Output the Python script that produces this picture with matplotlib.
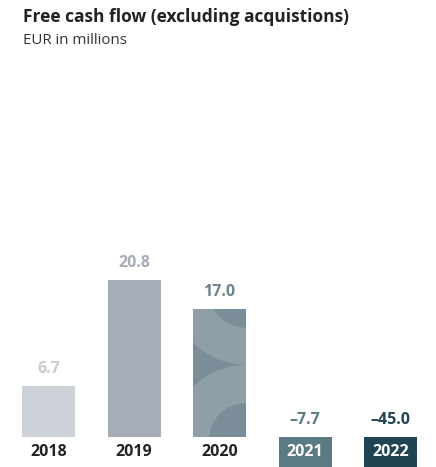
import matplotlib.pyplot as plt
from matplotlib.patches import Rectangle, Ellipse

years = ['2018', '2019', '2020', '2021', '2022']
fcf = [6.7, 20.8, 17.0, -7.7, -45.0]
bar_colors = ['#cdd2d9', '#a5adb6', '#8e9fa8', '#5a7a84', '#1f4452']
value_colors = ['#c6ccd3', '#a5adb6', '#6f838e', '#5a7a84', '#1f4452']

W, H = 436, 467
ppu = 7.55          # pixels per EUR million
base_px = 30        # height of the year-label strip
step_px = 85.5      # distance between bar centres
x0_px = 48.5        # centre of the first bar
bar_px = 53

fig = plt.figure(figsize=(W / 100, H / 100), dpi=100)
ax = fig.add_axes([0, 0, 1, 1])
ax.set_xlim(-x0_px / step_px, (W - x0_px) / step_px)
ax.set_ylim(-base_px / ppu, (H - base_px) / ppu)
ax.axis('off')

font = ['Open Sans', 'DejaVu Sans']
bw = bar_px / step_px
heights = [max(v, 0) for v in fcf]
bars = ax.bar(range(len(years)), heights, width=bw, color=bar_colors, zorder=2)

# 2020 bar gets the arc decoration, clipped to the bar itself
b = bars[2]
cx = b.get_x() + b.get_width()
top = b.get_height()
dark = '#7b8d98'
rx = 1 / step_px
ry = 1 / ppu
layers = [
    (top + 19 * ry, 75, '#8e9fa8'),
    (top + 19 * ry, 38, dark),
    (-3 * ry, 75, '#8e9fa8'),
    (-3 * ry, 37, dark),
]
b.set_facecolor(dark)
for cy, r, c in layers:
    e = Ellipse((cx, cy), 2 * r * rx, 2 * r * ry, color=c, lw=0, zorder=2.5)
    ax.add_patch(e)
    e.set_clip_path(b.get_path(), b.get_transform())

for i, (yr, v) in enumerate(zip(years, fcf)):
    ytxt = max(v, 0) + 17 * ry
    ax.text(i, ytxt, f'{v:.1f}'.replace('-', '\u2013'), ha='center', va='center',
            fontsize=11.5, fontweight='bold', color=value_colors[i], family=font,
            zorder=4)
    if v < 0:
        ax.add_patch(Rectangle((i - bw / 2, -base_px * ry), bw, base_px * ry,
                               color=bar_colors[i], lw=0, zorder=2))
        tc = 'white'
    else:
        tc = '#222222'
    ax.text(i, -15 * ry, yr, ha='center', va='center', fontsize=11.5,
            fontweight='bold', color=tc, family=font, zorder=4)

fig.text(23 / W, 1 - 17 / H, 'Free cash flow (excluding acquistions)', ha='left',
         va='center', fontsize=12.5, fontweight='bold', color='#222222', family=font)
fig.text(23 / W, 1 - 41 / H, 'EUR in millions', ha='left', va='center',
         fontsize=10.8, color='#333333', family=font)

fig.savefig('out.png', dpi=100)
